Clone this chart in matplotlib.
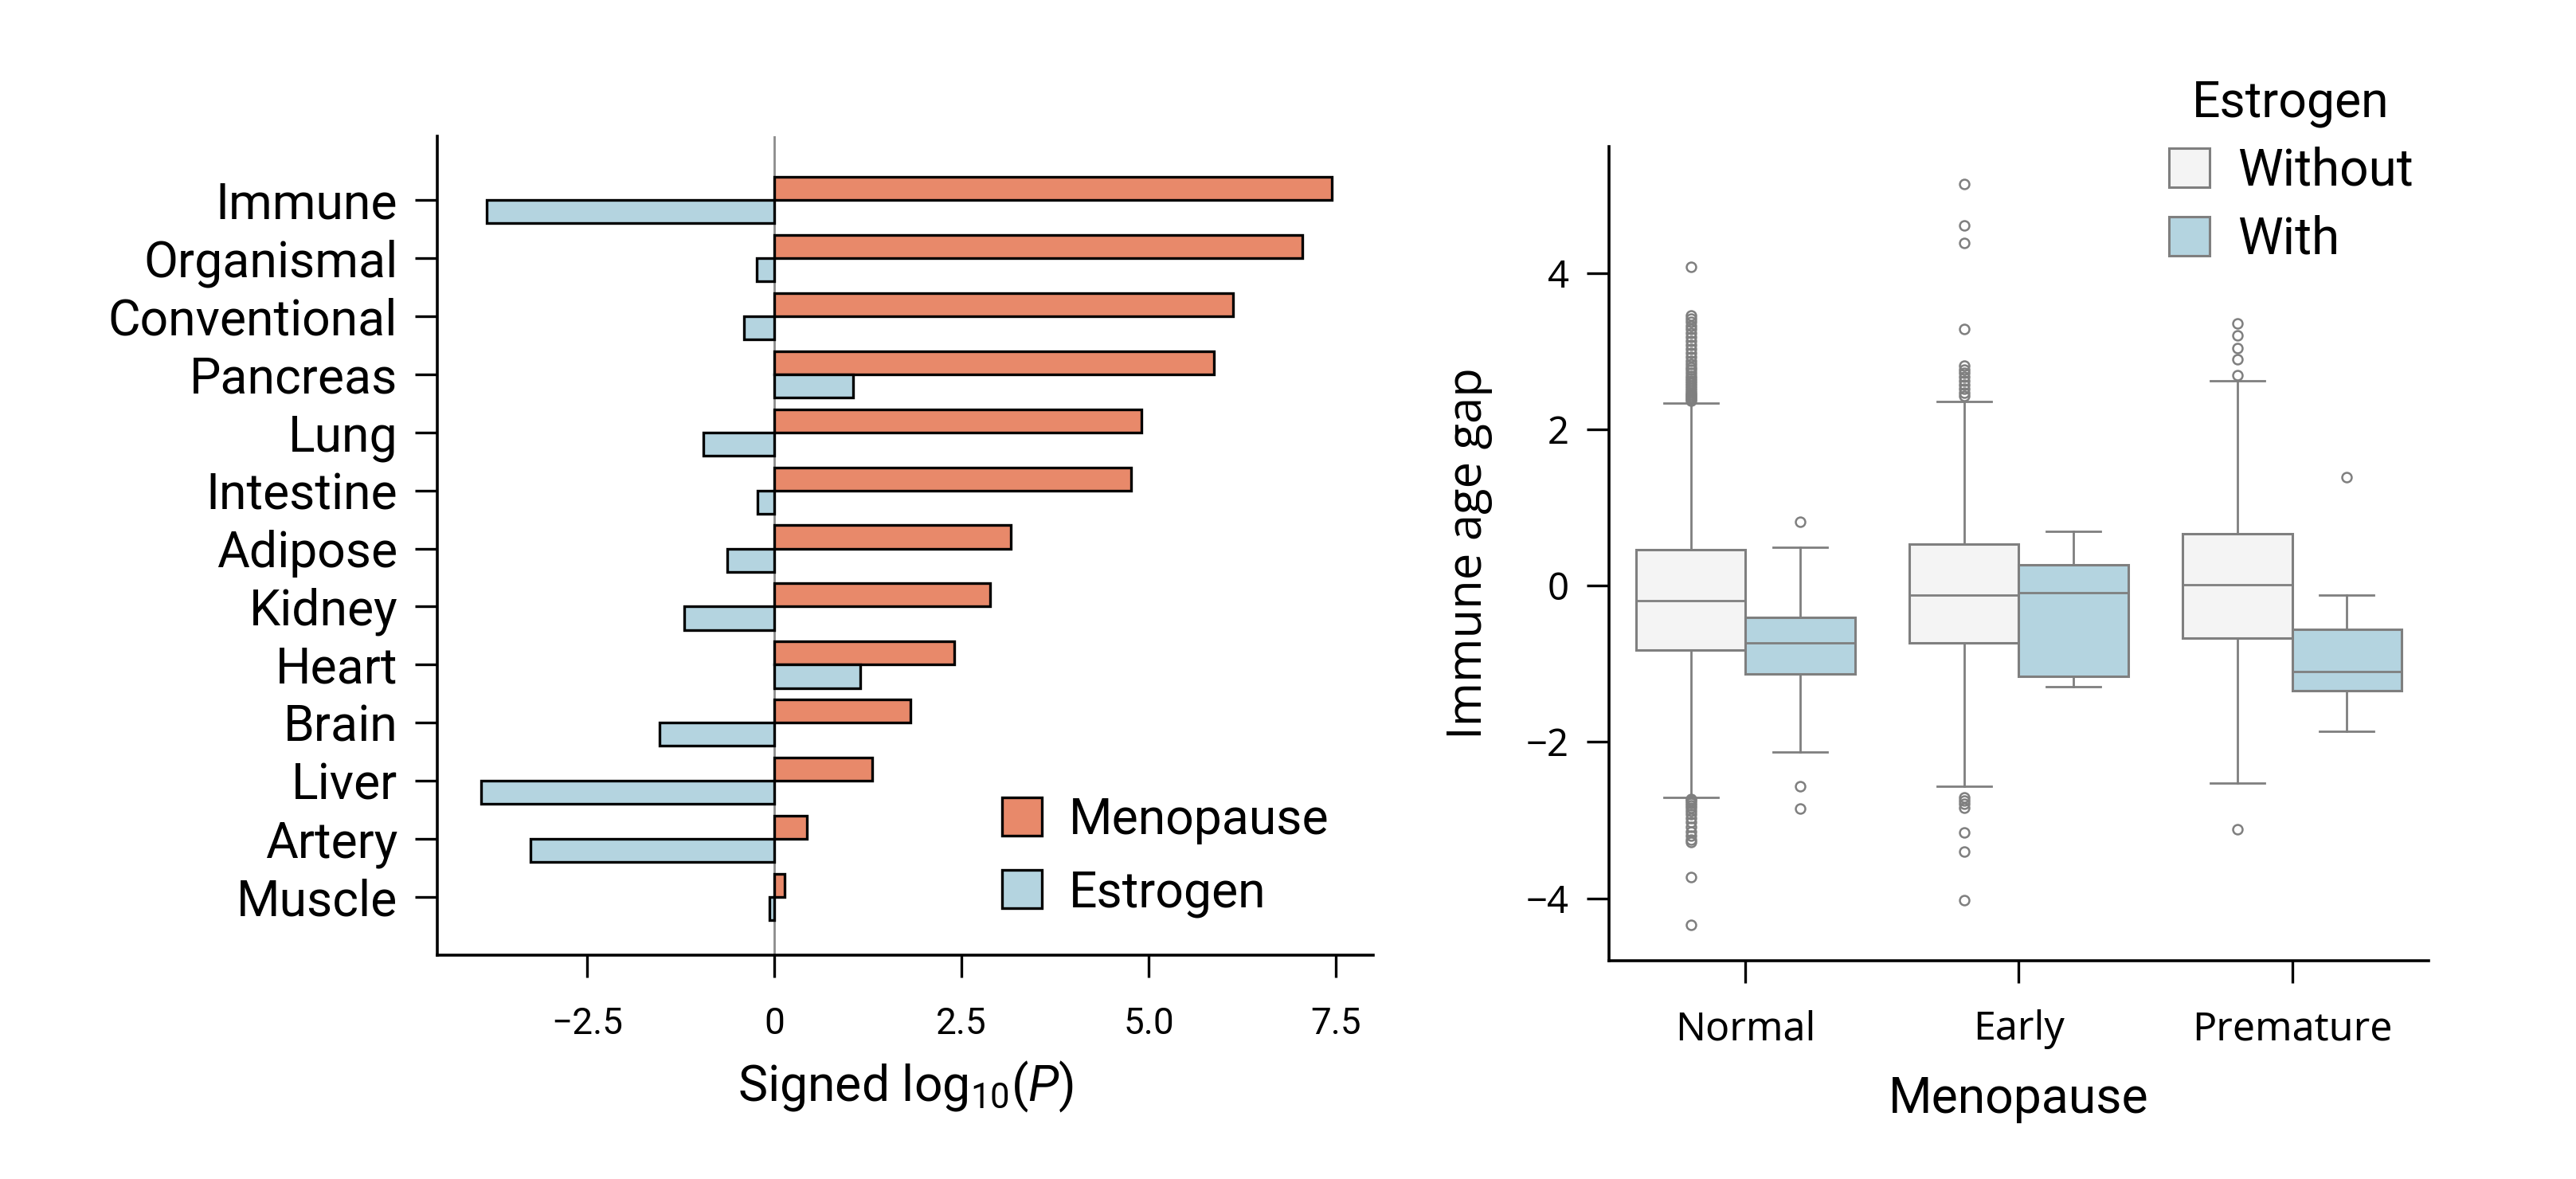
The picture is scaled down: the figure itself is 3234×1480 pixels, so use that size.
import numpy as np
import matplotlib
matplotlib.use("Agg")
import matplotlib.pyplot as plt
from matplotlib.patches import Patch

plt.rcParams['font.family'] = ['Roboto', 'DejaVu Sans']
plt.rcParams['mathtext.fontset'] = 'custom'
plt.rcParams['mathtext.rm'] = 'Roboto'
plt.rcParams['mathtext.it'] = 'Roboto:italic'

# --- left panel data: signed log10(P) per organ ---
organs = ["Immune", "Organismal", "Conventional", "Pancreas", "Lung", "Intestine",
          "Adipose", "Kidney", "Heart", "Brain", "Liver", "Artery", "Muscle"]
menopause = [7.45, 7.05, 6.13, 5.87, 4.90, 4.77, 3.16, 2.88, 2.40, 1.82, 1.31, 0.44, 0.14]
estrogen = [-3.84, -0.24, -0.41, 1.05, -0.95, -0.22, -0.63, -1.20, 1.15, -1.53, -3.92, -3.26, -0.07]

# --- right panel data: immune age gap box stats ---
groups = ["Normal", "Early", "Premature"]
hue_levels = ["Without", "With"]
# order: (Normal, Without), (Normal, With), (Early, Without), ...
q1 = [-0.82, -1.13, -0.73, -1.16, -0.67, -1.34]
med = [-0.19, -0.73, -0.12, -0.09, 0.01, -1.10]
q3 = [0.46, -0.41, 0.53, 0.27, 0.67, -0.56]
whislo = [-2.71, -2.13, -2.57, -1.29, -2.53, -1.86]
whishi = [2.34, 0.49, 2.36, 0.70, 2.62, -0.12]
fliers = [
    [2.37, 2.39, 2.41, 2.43, 2.45, 2.47, 2.50, 2.53, 2.56, 2.59, 2.62, 2.65, 2.68,
     2.72, 2.76, 2.80, 2.84, 2.88, 2.93, 2.98, 3.03, 3.08, 3.13, 3.18, 3.23, 3.28,
     3.33, 3.38, 3.42, 3.46, 4.08,
     -2.73, -2.75, -2.78, -2.81, -2.84, -2.88, -2.92, -2.97, -3.03, -3.09, -3.15,
     -3.20, -3.25, -3.28, -3.73, -4.34],
    [0.82, -2.57, -2.85],
    [2.43, 2.47, 2.52, 2.57, 2.62, 2.67, 2.72, 2.77, 2.82, 3.28, 4.39, 4.61, 5.14,
     -2.71, -2.75, -2.79, -2.84, -3.16, -3.40, -4.02],
    [],
    [2.69, 2.90, 3.04, 3.20, 3.36, -3.12],
    [1.39],
]

c_meno = '#e8896a'
c_estr = '#b4d4e0'
c_without = '#f4f4f4'
c_line = '#7f7f7f'

fig = plt.figure(figsize=(16.17, 7.4), dpi=200)

# ---------- left: bar chart ----------
ax1 = fig.add_axes([0.1698, 0.1899, 0.3633, 0.6946])
y = np.arange(len(organs))
ax1.axvline(0, color='#8c8c8c', lw=1.0, zorder=0.5)
ax1.barh(y - 0.2, menopause, height=0.4, color=c_meno, edgecolor='black',
         linewidth=1.2, label='Menopause', zorder=2)
ax1.barh(y + 0.2, estrogen, height=0.4, color=c_estr, edgecolor='black',
         linewidth=1.2, label='Estrogen', zorder=2)
ax1.set_yticks(y)
ax1.set_yticklabels(organs, fontsize=22.5)
ax1.set_ylim(13.0, -1.1)
ax1.set_xlim(-4.5, 8.0)
ax1.set_xticks([-2.5, 0, 2.5, 5.0, 7.5])
ax1.set_xticklabels(['\u22122.5', '0', '2.5', '5.0', '7.5'], fontsize=16.5)
ax1.set_xlabel('Signed log$_{10}$($P$)', fontsize=22.5, labelpad=8)
for s in ['top', 'right']:
    ax1.spines[s].set_visible(False)
for s in ['left', 'bottom']:
    ax1.spines[s].set_linewidth(1.3)
ax1.tick_params(axis='y', length=10, width=1.2, pad=8)
ax1.tick_params(axis='x', length=10, width=1.2, pad=13)
ax1.legend(loc='lower right', bbox_to_anchor=(0.5237, 0.205), bbox_transform=fig.transFigure,
           frameon=False, fontsize=22.5, handlelength=0.8, handleheight=0.8,
           handletextpad=0.55, labelspacing=0.5, borderaxespad=0)

# ---------- right: box plot ----------
ax2 = fig.add_axes([0.6246, 0.1851, 0.3182, 0.6906])
stats = []
positions = []
facecols = []
for i in range(len(groups)):
    for j in range(len(hue_levels)):
        k = i * 2 + j
        stats.append(dict(med=med[k], q1=q1[k], q3=q3[k], whislo=whislo[k],
                          whishi=whishi[k], fliers=fliers[k]))
        positions.append(i - 0.2 + 0.4 * j)
        facecols.append(c_without if j == 0 else c_estr)

bp = ax2.bxp(stats, positions=positions, widths=0.4, capwidths=0.2, patch_artist=True,
             boxprops=dict(edgecolor=c_line, linewidth=1.1),
             medianprops=dict(color=c_line, linewidth=1.0),
             whiskerprops=dict(color=c_line, linewidth=1.0),
             capprops=dict(color=c_line, linewidth=1.0),
             flierprops=dict(marker='o', markersize=4.3, markerfacecolor='none',
                             markeredgecolor=c_line, markeredgewidth=0.9))
for box, fc in zip(bp['boxes'], facecols):
    box.set_facecolor(fc)

ax2.set_xlim(-0.5, 2.5)
ax2.set_ylim(-4.8, 5.62)
ax2.set_xticks(range(len(groups)))
ax2.set_xticklabels(groups, fontsize=18, family=['Noto Sans', 'DejaVu Sans'])
ax2.set_yticks([-4, -2, 0, 2, 4])
ax2.set_yticklabels(['\u22124', '\u22122', '0', '2', '4'], fontsize=17,
                    family=['Noto Sans', 'DejaVu Sans'])
ax2.set_xlabel('Menopause', fontsize=22.5, labelpad=12)
ax2.set_ylabel('Immune age gap', fontsize=21.5, labelpad=15, family=['Open Sans', 'DejaVu Sans'])
for s in ['top', 'right']:
    ax2.spines[s].set_visible(False)
for s in ['left', 'bottom']:
    ax2.spines[s].set_linewidth(1.3)
ax2.tick_params(axis='y', length=10, width=1.2, pad=8)
ax2.tick_params(axis='x', length=10, width=1.2, pad=12)

handles = [Patch(facecolor=c_without, edgecolor=c_line, linewidth=1.1),
           Patch(facecolor=c_estr, edgecolor=c_line, linewidth=1.1)]
ax2.legend(handles, hue_levels, title='Estrogen', loc='upper left',
           bbox_to_anchor=(0.834, 0.95), bbox_transform=fig.transFigure,
           frameon=False, fontsize=23, title_fontsize=22.5, handlelength=0.8,
           handleheight=0.8, handletextpad=0.55, labelspacing=0.37, borderaxespad=0)

fig.savefig('out.png', dpi=200)
